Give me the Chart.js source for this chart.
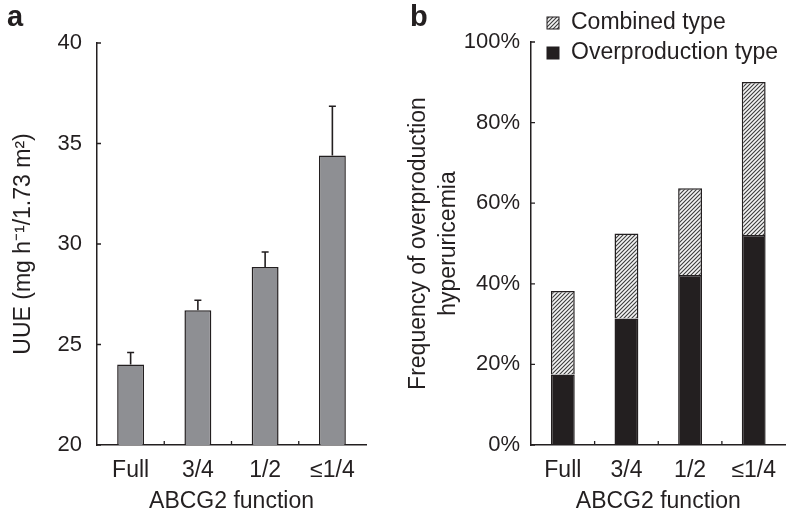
<!DOCTYPE html>
<html>
<head>
<meta charset="utf-8">
<script src="https://cdn.jsdelivr.net/npm/chart.js@4.4.1/dist/chart.umd.min.js"></script>
<style>
  body { margin: 0; background: #fff; }
  #wrap { position: relative; width: 788px; height: 515px; font-family: "Liberation Sans", Arial, sans-serif; }
  canvas { position: absolute; top: 0; }
  #chartA { left: 0; }
  #chartB { left: 394px; }
  .tag { position: absolute; font-weight: bold; font-size: 29px; color: #231f20; line-height: 1; }
</style>
</head>
<body>
<div id="wrap">
  <canvas id="chartA" width="394" height="515"></canvas>
  <canvas id="chartB" width="394" height="515"></canvas>
  <div class="tag" style="left:7px; top:2px;">a</div>
  <div class="tag" style="left:410px; top:2px;">b</div>
</div>
<script>
// data
const categories = ['Full', '3/4', '1/2', '\u22641/4'];
const uueMean = [24.0, 26.7, 28.85, 34.4];
const uueErr = [0.6, 0.5, 0.75, 2.45];
const uueTicks = [20, 25, 30, 35, 40];

const overproduction = [17.5, 31.4, 42.2, 52.1];
const combined = [20.7, 21.1, 21.5, 38.0];
const freqTicks = [0, 20, 40, 60, 80, 100];

const ink = '#231f20';
const family = '"Liberation Sans", Arial, sans-serif';
const font = { family: family, size: 23 };
const tickFont = { family: family, size: 22 };
Chart.defaults.color = ink;
Chart.defaults.font = font;

// hatch fill for "Combined type"
function makeHatch() {
  const c = document.createElement('canvas');
  c.width = 4; c.height = 4;
  const g = c.getContext('2d');
  g.fillStyle = '#f4f4f4';
  g.fillRect(0, 0, 4, 4);
  g.strokeStyle = '#3b3b3b';
  g.lineWidth = 1.1;
  g.beginPath();
  g.moveTo(0, 4); g.lineTo(4, 0);
  g.moveTo(-1, 1); g.lineTo(1, -1);
  g.moveTo(3, 5); g.lineTo(5, 3);
  g.stroke();
  return g.createPattern(c, 'repeat');
}
const hatch = makeHatch();

// small inward ticks like the original
const innerTicks = {
  id: 'innerTicks',
  afterDraw(chart) {
    const { ctx, chartArea } = chart;
    const x = chart.scales.x, y = chart.scales.y;
    ctx.save();
    ctx.strokeStyle = ink;
    ctx.lineWidth = 1.3;
    ctx.beginPath();
    y.ticks.forEach((t, i) => {
      const py = y.getPixelForTick(i);
      ctx.moveTo(chartArea.left, py);
      ctx.lineTo(chartArea.left + 4, py);
    });
    for (let i = 1; i < x.ticks.length; i++) {
      const px = (x.getPixelForTick(i - 1) + x.getPixelForTick(i)) / 2;
      ctx.moveTo(px, chartArea.bottom);
      ctx.lineTo(px, chartArea.bottom - 4);
    }
    ctx.stroke();
    ctx.restore();
  }
};

// error bars (upper side only)
const errorBars = {
  id: 'errorBars',
  afterDatasetsDraw(chart) {
    const { ctx } = chart;
    const y = chart.scales.y;
    const meta = chart.getDatasetMeta(0);
    ctx.save();
    ctx.strokeStyle = ink;
    ctx.lineWidth = 1.6;
    meta.data.forEach((bar, i) => {
      const top = y.getPixelForValue(uueMean[i] + uueErr[i]);
      ctx.beginPath();
      ctx.moveTo(bar.x, bar.y);
      ctx.lineTo(bar.x, top);
      ctx.moveTo(bar.x - 3.5, top);
      ctx.lineTo(bar.x + 3.5, top);
      ctx.stroke();
    });
    ctx.restore();
  }
};

// vertical legend above the plot in panel b
const sideLegend = {
  id: 'sideLegend',
  afterDraw(chart) {
    const { ctx } = chart;
    const sets = chart.data.datasets.slice().reverse();
    ctx.save();
    ctx.font = '23px ' + family;
    ctx.textBaseline = 'middle';
    sets.forEach((ds, i) => {
      const cy = 23 + i * 30;
      ctx.fillStyle = ds.backgroundColor;
      ctx.fillRect(153, cy - 6, 12, 12);
      ctx.strokeStyle = ink;
      ctx.lineWidth = 1;
      ctx.strokeRect(153, cy - 6, 12, 12);
      ctx.fillStyle = ink;
      ctx.fillText(ds.label, 177, cy);
    });
    ctx.restore();
  }
};

function xAxis(extra) {
  return Object.assign({
    grid: { display: false, drawTicks: false },
    border: { color: ink, width: 1.5 },
    ticks: { padding: 12, color: ink, font: font },
    title: { display: true, text: 'ABCG2 function', color: ink, font: font, padding: { top: 2, bottom: 0 } },
    afterFit: s => { s.height = 70; }
  }, extra || {});
}

new Chart(document.getElementById('chartA'), {
  type: 'bar',
  data: {
    labels: categories,
    datasets: [{
      label: 'UUE',
      data: uueMean,
      backgroundColor: '#8e8f93',
      borderColor: ink,
      borderWidth: 1.5,
      borderSkipped: 'start',
      barPercentage: 0.4,
      categoryPercentage: 1
    }]
  },
  options: {
    responsive: false,
    animation: false,
    layout: { padding: { top: 43, right: 28 } },
    plugins: { legend: { display: false }, tooltip: { enabled: false } },
    scales: {
      x: xAxis(),
      y: {
        min: 20, max: 40,
        afterBuildTicks: s => { s.ticks = uueTicks.map(v => ({ value: v })); },
        grid: { display: false, drawTicks: false },
        border: { color: ink, width: 1.5 },
        ticks: { padding: 15, color: ink, font: tickFont },
        title: { display: true, text: 'UUE (mg h\u207B\u00B9/1.73 m\u00B2)', color: ink, font: font, padding: { top: 10, bottom: 0 } },
        afterFit: s => { s.width = 97; }
      }
    }
  },
  plugins: [errorBars, innerTicks]
});

new Chart(document.getElementById('chartB'), {
  type: 'bar',
  data: {
    labels: categories,
    datasets: [{
      label: 'Overproduction type',
      data: overproduction,
      backgroundColor: ink,
      borderColor: ink,
      borderWidth: 1.5,
      borderSkipped: 'start',
      barPercentage: 0.375,
      categoryPercentage: 1
    }, {
      label: 'Combined type',
      data: combined,
      backgroundColor: hatch,
      borderColor: ink,
      borderWidth: 1.5,
      borderSkipped: 'start',
      barPercentage: 0.375,
      categoryPercentage: 1
    }]
  },
  options: {
    responsive: false,
    animation: false,
    layout: { padding: { top: 42, right: 0 } },
    plugins: { legend: { display: false }, tooltip: { enabled: false } },
    scales: {
      x: xAxis({ stacked: true }),
      y: {
        stacked: true,
        min: 0, max: 100,
        afterBuildTicks: s => { s.ticks = freqTicks.map(v => ({ value: v })); },
        grid: { display: false, drawTicks: false },
        border: { color: ink, width: 1.5 },
        ticks: { padding: 11, color: ink, font: tickFont, callback: v => v + '%' },
        title: {
          display: true,
          text: ['Frequency of overproduction', 'hyperuricemia'],
          color: ink,
          font: Object.assign({}, font, { lineHeight: 1.3 }),
          padding: { top: 10, bottom: 0 }
        },
        afterFit: s => { s.width = 137; }
      }
    }
  },
  plugins: [innerTicks, sideLegend]
});
</script>
</body>
</html>
